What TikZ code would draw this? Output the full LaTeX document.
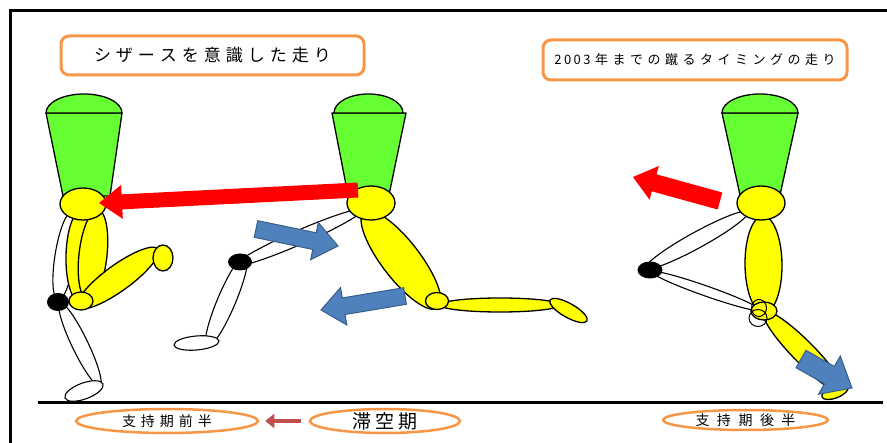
\documentclass[tikz,border=0pt]{standalone}
\usepackage{fontspec}
\setmainfont{Noto Sans CJK JP}
\usetikzlibrary{calc,shapes.geometric,arrows.meta}

\definecolor{torsogreen}{HTML}{66FF33}
\definecolor{limbyellow}{HTML}{FFFF00}
\definecolor{labelorange}{HTML}{F79646}
\definecolor{pushblue}{HTML}{4F81BD}
\definecolor{pushblueedge}{HTML}{385D8A}
\definecolor{phasered}{HTML}{C0504D}

\makeatletter
% letter-spaced text: gap #1 between the characters of #2
\newcommand\spaced[2]{\def\sp@first{1}\@tfor\sp@ch:=#2\do{\ifx\sp@first\@empty\hspace*{#1}\fi\sp@ch\let\sp@first\@empty}}
\makeatother
% text centred on its CJK em box, with no height of its own
\newcommand\ctext[1]{\smash{\raisebox{-0.38em}{#1}}}

% limb: ellipse spanning two end points with a given half width
\newcommand{\limb}[4]{%
  \path[#1] let \p1=#2, \p2=#3, \n1={atan2(\y2-\y1,\x2-\x1)}, \n2={veclen(\x2-\x1,\y2-\y1)/2} in
    ($(\p1)!0.5!(\p2)$) ellipse [x radius=\n2, y radius=#4pt, rotate=\n1];}

% block arrow: style, tail, tip, shaft half width, head half width, head length
\newcommand{\fatarrow}[6]{%
  \coordinate (fa-base) at ($#3!#6pt!#2$);
  \path[#1] ($#2!#4pt!90:#3$) -- ($(fa-base)!#4pt!90:#3$) -- ($(fa-base)!#5pt!90:#3$) -- #3
    -- ($(fa-base)!#5pt!-90:#3$) -- ($(fa-base)!#4pt!-90:#3$) -- ($#2!#4pt!-90:#3$) -- cycle;}

\tikzset{
  outline/.style={draw=black, line width=1.3pt},
  yel/.style={outline, fill=limbyellow},
  wht/.style={outline, fill=white, line width=1.1pt},
  grn/.style={outline, fill=torsogreen, line join=round},
  loop/.style={draw=black, line width=1pt},
  redarrow/.style={fill=red},
  bluearrow/.style={fill=pushblue, draw=pushblueedge, line width=1pt},
  titlebox/.style={draw=labelorange, line width=3pt, rounded corners=8pt, fill=white, inner sep=0pt},
  phase/.style={ellipse, draw=labelorange, line width=2.5pt, inner sep=0pt},
  frame/.style={line width=3pt},
}

\begin{document}
\begin{tikzpicture}[x=1pt,y=-1pt]
\useasboundingbox (0,0) rectangle (887,443);

% frame and ground
\draw[frame] (10,443) -- (10,11) -- (887,11);
\coordinate (ground-l) at (38,403);
\coordinate (ground-r) at (883,403);
\draw[frame] (ground-l) -- (ground-r);

% titles
\node[titlebox, minimum width=303pt, minimum height=39pt] (title-scissors) at (212.5,55.5)
  {\fontsize{17pt}{17pt}\selectfont\ctext{\spaced{5pt}{シザースを意識した走り}}};
\node[titlebox, minimum width=304pt, minimum height=40pt] (title-2003) at (695,60)
  {\fontsize{13pt}{13pt}\selectfont\ctext{\spaced{2.5pt}{2003}\hspace{4.5pt}\spaced{4.5pt}{年までの蹴るタイミングの走り}}};

% ---- runner 1: early support ----
\limb{wht}{(72,212)}{(58,300)}{10}
\limb{wht}{(60,303)}{(100,386)}{8}
\limb{wht}{(65,398)}{(103,384)}{8}
\limb{yel}{(82,210)}{(80,302)}{15}
\limb{yel}{(98,210)}{(88,300)}{14}
\draw[grn] (46,113) -- (122,113) -- (110,196) -- (63,196) -- cycle;
\draw[grn] (46,113) arc[start angle=180, end angle=0, x radius=38pt, y radius=19pt] -- cycle;
\draw[yel] (83,204) ellipse [x radius=23pt, y radius=16pt];
\limb{yel}{(78,307)}{(158,249)}{13}
\draw[yel] (163,258) ellipse [x radius=10pt, y radius=13pt];
\draw[yel] (81,301) ellipse [x radius=12pt, y radius=9pt];
\fill (58,302) ellipse [x radius=11pt, y radius=9pt];

% ---- runner 2: flight ----
\limb{wht}{(236,265)}{(362,210)}{7}
\limb{wht}{(246,255)}{(207,347)}{9}
\limb{wht}{(174,345)}{(219,341)}{7}
\fill (240,262) ellipse [x radius=12pt, y radius=8.5pt];
\draw[grn] (332,113) -- (406,113) -- (389,195) -- (348,195) -- cycle;
\draw[grn] (334,113) arc[start angle=180, end angle=0, x radius=34.5pt, y radius=19pt] -- cycle;
\limb{yel}{(364,212)}{(438,308)}{19}
\draw[yel] (371,203) ellipse [x radius=24pt, y radius=17pt];
\limb{yel}{(440,305)}{(560,305)}{7}
\limb{yel}{(550,300)}{(587,321)}{7}
\draw[yel] (437,301) ellipse [x radius=11.5pt, y radius=8.5pt];

% ---- runner 3: late support ----
\limb{wht}{(646,268)}{(748,212)}{8}
\limb{wht}{(652,272)}{(760,310)}{5}
\fill (650,270) ellipse [x radius=12.5pt, y radius=8.5pt];
\draw[grn] (722,113) -- (798,113) -- (780,195) -- (740,195) -- cycle;
\draw[grn] (722,113) arc[start angle=180, end angle=0, x radius=38pt, y radius=19pt] -- cycle;
\limb{yel}{(764,312)}{(844,393)}{11}
\limb{yel}{(822,397)}{(848,387)}{6}
\limb{yel}{(763,216)}{(764,313)}{18.5}
\draw[yel] (761,203) ellipse [x radius=24pt, y radius=17pt];
\draw[yel] (764,311) ellipse [x radius=13pt, y radius=9pt];
\draw[loop] (759,308) ellipse [x radius=7.5pt, y radius=8.5pt];
\draw[loop] (758,318) ellipse [x radius=9pt, y radius=8.5pt];

% ---- motion arrows ----
\fatarrow{redarrow}{(358,190)}{(99,203)}{7.5}{17}{23}
\fatarrow{redarrow}{(720,201)}{(633,177)}{8.8}{17.5}{22}
\fatarrow{bluearrow}{(256,229)}{(338,246)}{8.5}{19}{24}
\fatarrow{bluearrow}{(405,296)}{(321,310)}{8.4}{19}{23}
\fatarrow{bluearrow}{(801,359)}{(852,388)}{10}{22}{26}

% ---- phase labels ----
\node[phase, minimum width=182pt, minimum height=24pt] (phase-early) at (167,421)
  {\fontsize{14pt}{14pt}\selectfont\ctext{\spaced{5pt}{支持期前半}}};
\node[phase, minimum width=150pt, minimum height=24pt] (phase-flight) at (385,421)
  {\fontsize{19pt}{19pt}\selectfont\ctext{\spaced{4pt}{滞空期}}};
\node[phase, minimum width=165pt, minimum height=20pt] (phase-late) at (745.5,420)
  {\fontsize{14pt}{14pt}\selectfont\ctext{\spaced{7.5pt}{支持期後半}}};
\draw[-{Triangle[length=9pt,width=14pt]}, phasered, line width=3.5pt, shorten <=8pt, shorten >=6pt]
  (phase-flight.west) -- (phase-early.east);
\end{tikzpicture}
\end{document}
